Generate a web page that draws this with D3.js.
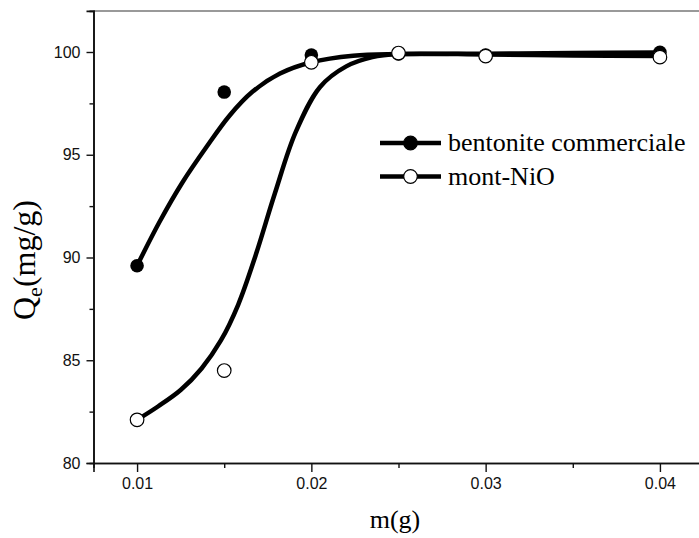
<!DOCTYPE html>
<html>
<head>
<meta charset="utf-8">
<script src="https://cdn.jsdelivr.net/npm/d3@7"></script>
<style>
  body { margin: 0; background: #fff; }
  svg { display: block; }
</style>
</head>
<body>
<div id="chart"></div>
<script>
const WIDTH = 699;
const HEIGHT = 538;

// measured points
const masses = [0.01, 0.015, 0.02, 0.025, 0.03, 0.04];
const bentonite = [89.6, 98.05, 99.85, 99.9, 99.85, 99.98];
const montNiO = [82.1, 84.5, 99.5, 99.95, 99.8, 99.75];

// fitted curves
const bentCurveX = [0.01, 0.0113, 0.0126, 0.014, 0.0153, 0.0166, 0.0182, 0.02, 0.0224, 0.025, 0.03, 0.035, 0.04];
const bentCurveY = [89.6, 91.75, 93.65, 95.4, 96.9, 98.05, 98.95, 99.5, 99.82, 99.9, 99.92, 99.95, 99.98];
const niCurveX = [0.01, 0.0112, 0.0125, 0.0137, 0.0148, 0.0158, 0.0168, 0.0179, 0.0191, 0.0205, 0.022, 0.0235, 0.025, 0.03, 0.035, 0.04];
const niCurveY = [82.1, 82.75, 83.55, 84.6, 85.95, 87.7, 90.1, 93.1, 96.1, 98.3, 99.3, 99.75, 99.9, 99.88, 99.83, 99.8];

const xMajor = [0.01, 0.02, 0.03, 0.04];
const xMinor = [0.015, 0.025, 0.035];
const yMajor = [80, 85, 90, 95, 100];
const yMinor = [82.5, 87.5, 92.5, 97.5];

const legendNames = ["bentonite commerciale", "mont-NiO"];

let x = d3.scaleLinear().domain([0.0075, 0.0425]).range([93.5, 703.5]);
let y = d3.scaleLinear().domain([80, 102]).range([463, 10.9]);

let svg = d3.select("#chart")
  .append("svg")
  .attr("width", WIDTH)
  .attr("height", HEIGHT);

// top frame line
svg.append("line")
  .attr("x1", x(0.0075)).attr("x2", WIDTH)
  .attr("y1", y(102)).attr("y2", y(102))
  .style("stroke", "#777")
  .style("stroke-width", 1.5);

let styleAxis = g => {
  g.select(".domain").style("stroke", "#111").style("stroke-width", 1.6);
  g.selectAll(".tick line").style("stroke", "#111").style("stroke-width", 1.4);
  g.selectAll(".tick text")
    .style("font-family", "'Liberation Sans', Arial, sans-serif")
    .style("font-size", "16px")
    .style("fill", "#111");
}

// x axis
svg.append("g")
  .attr("transform", `translate(0, ${y(80)})`)
  .call(d3.axisBottom(x).tickValues(xMinor).tickSize(5).tickFormat(""))
  .call(styleAxis);
svg.append("g")
  .attr("transform", `translate(0, ${y(80)})`)
  .call(d3.axisBottom(x).tickValues(xMajor).tickSize(9).tickPadding(6).tickFormat(d3.format(".2f")))
  .call(styleAxis);

// y axis
svg.append("g")
  .attr("transform", `translate(${x(0.0075)}, 0)`)
  .call(d3.axisLeft(y).tickValues(yMinor).tickSize(4).tickFormat(""))
  .call(styleAxis);
svg.append("g")
  .attr("transform", `translate(${x(0.0075)}, 0)`)
  .call(d3.axisLeft(y).tickValues(yMajor).tickSize(7).tickPadding(6))
  .call(styleAxis);

// axis titles
svg.append("text")
  .attr("x", 395)
  .attr("y", 528)
  .attr("text-anchor", "middle")
  .style("font-family", "'Liberation Serif', 'Times New Roman', serif")
  .style("font-size", "26px")
  .text("m(g)");

let yTitle = svg.append("text")
  .attr("transform", "translate(35, 260) rotate(-90)")
  .attr("text-anchor", "middle")
  .style("font-family", "'Liberation Serif', 'Times New Roman', serif")
  .style("font-size", "32px");
yTitle.append("tspan").text("Q");
yTitle.append("tspan").attr("dy", 7).style("font-size", "22px").text("e");
yTitle.append("tspan").attr("dy", -7).text("(mg/g)");

// curves
let line = d3.line()
  .x(d => x(d[0]))
  .y(d => y(d[1]))
  .curve(d3.curveCatmullRom.alpha(0.5));

svg.append("path")
  .datum(bentCurveX.map((m, i) => [m, bentCurveY[i]]))
  .attr("d", line)
  .style("fill", "none")
  .style("stroke", "#000")
  .style("stroke-width", 4.5);

svg.append("path")
  .datum(niCurveX.map((m, i) => [m, niCurveY[i]]))
  .attr("d", line)
  .style("fill", "none")
  .style("stroke", "#000")
  .style("stroke-width", 4.5);

// points
svg.selectAll("circle.bent")
  .data(masses.map((m, i) => [m, bentonite[i]]))
  .enter()
  .append("circle")
  .attr("class", "bent")
  .attr("cx", d => x(d[0]))
  .attr("cy", d => y(d[1]))
  .attr("r", 6.8)
  .style("fill", "#000");

svg.selectAll("circle.ni")
  .data(masses.map((m, i) => [m, montNiO[i]]))
  .enter()
  .append("circle")
  .attr("class", "ni")
  .attr("cx", d => x(d[0]))
  .attr("cy", d => y(d[1]))
  .attr("r", 6.8)
  .style("fill", "#fff")
  .style("stroke", "#000")
  .style("stroke-width", 1.2);

// legend
let legend = svg.selectAll("g.legend")
  .data(legendNames)
  .enter()
  .append("g")
  .attr("class", "legend")
  .attr("transform", (d, i) => `translate(380, ${143 + i * 33.5})`);

legend.append("line")
  .attr("x1", 0).attr("x2", 61)
  .style("stroke", "#000")
  .style("stroke-width", 4.5);

legend.append("circle")
  .attr("cx", 30.5)
  .attr("r", 6.8)
  .style("fill", (d, i) => i == 0 ? "#000" : "#fff")
  .style("stroke", "#000")
  .style("stroke-width", 1.2);

legend.append("text")
  .attr("x", 68)
  .attr("y", 8)
  .style("font-family", "'Liberation Serif', 'Times New Roman', serif")
  .style("font-size", "26px")
  .text(d => d);
</script>
</body>
</html>
